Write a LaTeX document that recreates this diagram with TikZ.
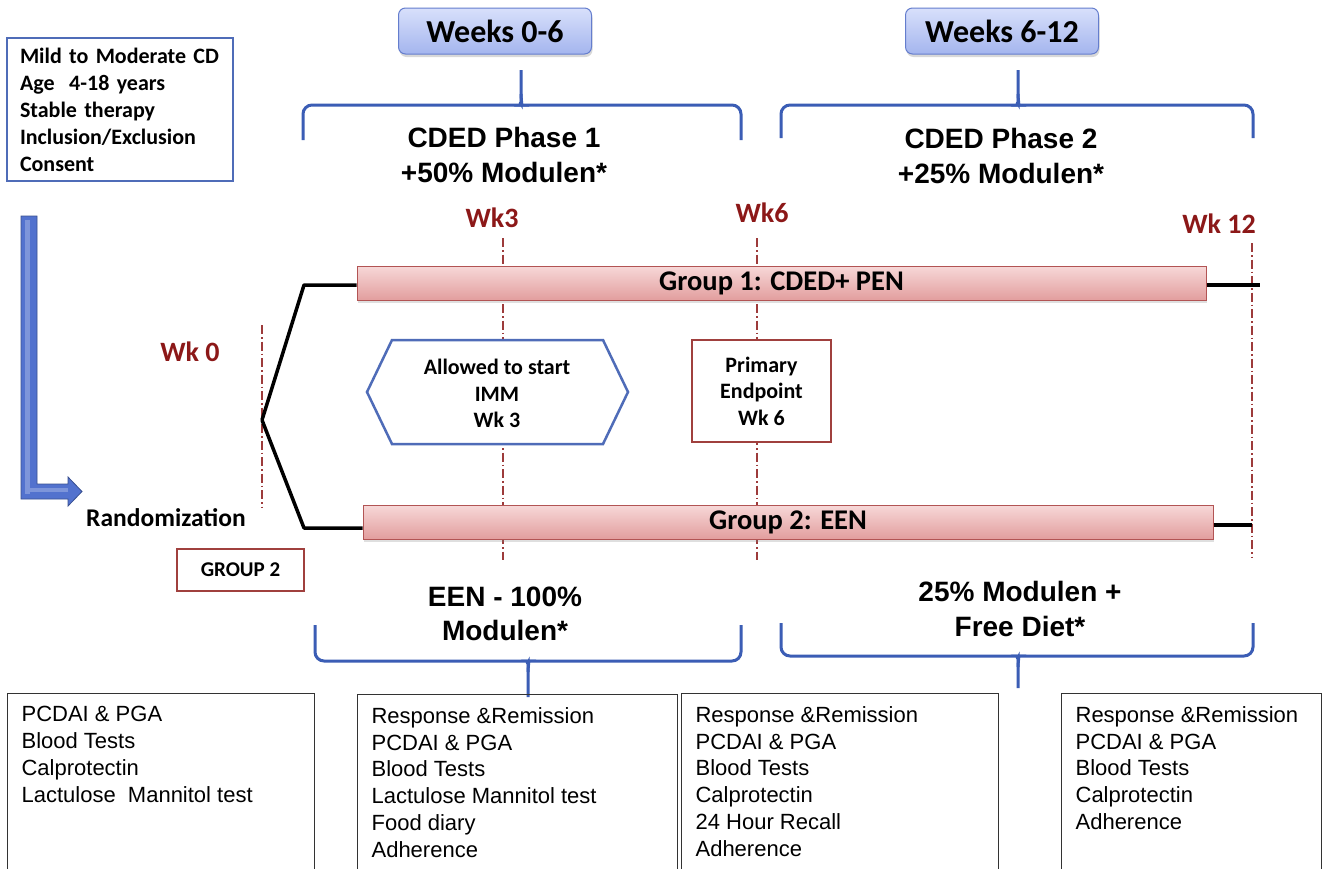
\documentclass[tikz,border=0pt]{standalone}
\usepackage{fontspec}
\setmainfont{Liberation Sans}
\newfontfamily\carl{Carlito}
\usetikzlibrary{shadows}
\definecolor{boxblue}{RGB}{79,108,184}
\definecolor{braceblue}{RGB}{59,93,181}
\definecolor{wkred}{RGB}{140,24,24}
\definecolor{boxred}{RGB}{160,64,62}
\definecolor{bartop}{RGB}{247,216,216}
\definecolor{barbot}{RGB}{226,158,158}
\definecolor{barline}{RGB}{178,84,84}
\definecolor{wtop}{RGB}{216,224,251}
\definecolor{wbot}{RGB}{164,181,238}
\definecolor{wline}{RGB}{100,125,205}
\definecolor{arrowblue}{RGB}{82,114,206}
\tikzset{
  lab/.style={font=\carl\bfseries\fontsize{22}{26.5}\selectfont, align=center, inner sep=0},
  wk/.style={font=\carl\bfseries\fontsize{28}{32}\selectfont, text=wkred, inner sep=0},
  phase/.style={font=\bfseries\fontsize{28}{34.5}\selectfont, align=center, inner sep=0},
  weekbox/.style={draw=wline, line width=1, rounded corners=7, top color=wtop, bottom color=wbot,
    minimum width=193, minimum height=46, inner sep=0, font=\carl\bfseries\fontsize{32}{36}\selectfont,
    drop shadow={opacity=0.3, shadow xshift=1pt, shadow yshift=-3pt}},
  bar/.style={draw=barline, line width=1, top color=bartop, bottom color=barbot, minimum height=34,
    inner sep=0, font=\carl\bfseries\fontsize{28.5}{31}\selectfont,
    drop shadow={opacity=0.25, shadow xshift=1pt, shadow yshift=-3pt}},
  redbox/.style={draw=boxred, line width=2, fill=white},
  bluebox/.style={draw=boxblue, line width=2.5, fill=white},
  infobox/.style={draw=black!80, line width=1.2, anchor=north west, inner xsep=14, inner ysep=13,
    font=\fontsize{22}{26.7}\selectfont},
  wkline/.style={draw=wkred!85, line width=1.2, dash pattern=on 9pt off 3pt on 1.5pt off 3pt},
  tl/.style={line width=3.5, black, line join=round},
  brace/.style={draw=braceblue, line width=3, rounded corners=9}
}
\begin{document}
\begin{tikzpicture}[x=1pt,y=-1pt]
\useasboundingbox (0,0) rectangle (1324,868);
\clip (0,0) rectangle (1324,868);
\fill[white] (0,0) rectangle (1324,868);

% week marker lines
\coordinate (w0t) at (262,325); \coordinate (w0b) at (262,507);
\coordinate (w3t) at (503,238); \coordinate (w3b) at (503,560);
\coordinate (w6t) at (757,238); \coordinate (w6b) at (757,560);
\coordinate (w12t) at (1252,243); \coordinate (w12b) at (1252,558);
\draw[wkline] (w0t) -- (w0b);
\draw[wkline] (w3t) -- (w3b);
\draw[wkline] (w6t) -- (w6b);
\draw[wkline] (w12t) -- (w12b);

% criteria box
\node[bluebox, minimum width=226, minimum height=143, text width=200, align=left, inner xsep=13,
  font=\carl\bfseries\fontsize{22}{27}\selectfont] (crit) at (120,109.5)
  {Mild to Moderate CD\\Age\ \ 4-18 years\\Stable therapy\\Inclusion/Exclusion\\Consent};

% week header boxes
\node[weekbox] (wa) at (495,31) {Weeks 0-6};
\node[weekbox] (wb) at (1002,31) {Weeks 6-12};

% braces
\draw[brace] (303,140) -- (303,105) -- (513,105) .. controls (519,105) and (521,101) .. (521,94) -- (521,70);
\draw[brace] (741,140) -- (741,105) -- (529,105) .. controls (523,105) and (521,101) .. (521,94);
\draw[brace] (781,138) -- (781,105) -- (1010,105) .. controls (1016,105) and (1018,101) .. (1018,94) -- (1018,70);
\draw[brace] (1253,138) -- (1253,105) -- (1026,105) .. controls (1020,105) and (1018,101) .. (1018,94);
\draw[brace] (315,625) -- (315,661) -- (520,661) .. controls (526,661) and (528,665) .. (528,672) -- (528,697);
\draw[brace] (741,625) -- (741,661) -- (536,661) .. controls (530,661) and (528,665) .. (528,672);
\draw[brace] (781,623) -- (781,656) -- (1010,656) .. controls (1016,656) and (1018,660) .. (1018,667) -- (1018,688);
\draw[brace] (1253,623) -- (1253,656) -- (1026,656) .. controls (1020,656) and (1018,660) .. (1018,667);

% phase texts
\node[phase] (p1) at (504,155) {CDED Phase 1\\+50\% Modulen*};
\node[phase] (p2) at (1001,156) {CDED Phase 2\\+25\% Modulen*};
\node[phase] (p3) at (505,614) {EEN - 100\%\\Modulen*};
\node[phase] (p4) at (1020,609) {25\% Modulen +\\Free Diet*};

% week labels
\node[wk] (lw3) at (492,218) {Wk3};
\node[wk] (lw6) at (762,213) {Wk6};
\node[wk] (lw12) at (1219,224) {Wk 12};
\node[wk] (lw0) at (190,352) {Wk 0};

% group bars
\node[bar, minimum width=849] (g1) at (781.5,283) {Group 1: CDED+ PEN};
\node[bar, minimum width=850] (g2) at (788,522) {Group 2: EEN};

% hexagon and endpoint
\draw[draw=boxblue, line width=2.5, fill=white] (367,392) -- (392,340) -- (603,340) -- (628,392) -- (603,444) -- (392,444) -- cycle;
\node[lab] (hex) at (497,393.5) {Allowed to start\\IMM\\Wk 3};
\node[redbox, lab, minimum width=139, minimum height=102] (ep) at (761.5,391) {Primary\\Endpoint\\Wk 6};

% randomization arrow
\fill[arrowblue] (21,216) -- (37,216) -- (37,484) -- (68,484) -- (68,477) -- (82,491.5) -- (68,506) -- (68,499) -- (21,499) -- cycle;
\fill[white, opacity=0.25] (25,220) rectangle (30,494);
\fill[white, opacity=0.25] (30,488) rectangle (68,492);
\draw[arrowblue!70!black, line width=0.8] (21,216) -- (37,216) -- (37,484) -- (68,484) -- (68,477) -- (82,491.5) -- (68,506) -- (68,499) -- (21,499) -- cycle;
\node[inner sep=0, font=\carl\bfseries\fontsize{25.5}{28}\selectfont] (rand) at (166,518) {Randomization};
\node[redbox, minimum width=127, minimum height=42, inner sep=0, font=\carl\bfseries\fontsize{21}{24}\selectfont] (grp2) at (240.5,570) {GROUP 2};

% connectors
\coordinate (split) at (262,420);
\coordinate (k1) at (304,285);
\coordinate (k2) at (304,528);
\coordinate (e1) at (1260,285);
\coordinate (e2) at (1252,525);
\draw[tl] (split) -- (k1) -- (k1 -| g1.west);
\draw[tl] (split) -- (k2) -- (k2 -| g2.west);
\draw[tl] (g1.east |- e1) -- (e1);
\draw[tl] (g2.east |- e2) -- (e2);

% assessment boxes
\node[infobox] (b1) at (7,693) {\parbox[t][160pt][t]{279pt}{PCDAI \& PGA\\Blood Tests\\Calprotectin\\Lactulose\ \ Mannitol test}};
\node[infobox] (b2) at (357,694) {\parbox[t][160pt][t]{292pt}{Response \&Remission\\PCDAI \& PGA\\Blood Tests\\Lactulose Mannitol test\\Food diary\\Adherence}};
\node[infobox] (b3) at (681,693) {\parbox[t][160pt][t]{289pt}{Response \&Remission\\PCDAI \& PGA\\Blood Tests\\Calprotectin\\24 Hour Recall\\Adherence}};
\node[infobox] (b4) at (1061,693) {\parbox[t][160pt][t]{232pt}{Response \&Remission\\PCDAI \& PGA\\Blood Tests\\Calprotectin\\Adherence}};
\end{tikzpicture}
\end{document}
